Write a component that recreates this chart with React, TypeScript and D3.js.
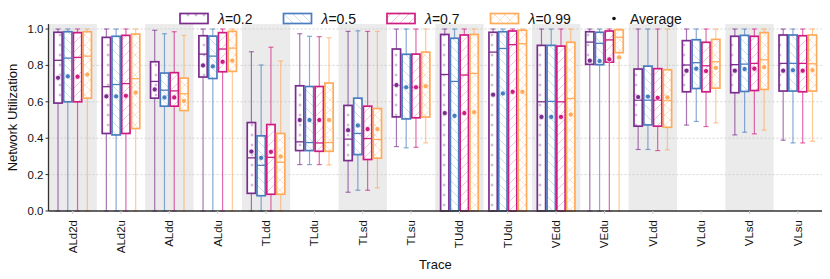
import React from "react";
import * as d3 from "d3";

const categories = ["ALd2d", "ALd2u", "ALdd", "ALdu", "TLdd", "TLdu", "TLsd", "TLsu", "TUdd", "TUdu", "VEdd", "VEdu", "VLdd", "VLdu", "VLsd", "VLsu"];

// each row: [whiskerLow, q1, median, q3, whiskerHigh, mean]
const lam02 = [
  [0, 0.593, 0.828, 0.982, 1, 0.732],
  [0, 0.426, 0.683, 0.954, 1, 0.63],
  [0, 0.62, 0.712, 0.82, 0.993, 0.668],
  [0, 0.736, 0.862, 0.963, 1, 0.8],
  [0, 0.097, 0.292, 0.486, 0.875, 0.327],
  [0.255, 0.332, 0.38, 0.688, 0.974, 0.5],
  [0.103, 0.277, 0.395, 0.58, 0.987, 0.444],
  [0.354, 0.517, 0.69, 0.89, 1, 0.692],
  [0, 0, 0.75, 0.97, 1, 0.538],
  [0, 0, 0.873, 0.982, 1, 0.639],
  [0, 0, 0.6, 0.91, 1, 0.517],
  [0, 0.806, 0.928, 0.985, 1, 0.826],
  [0.338, 0.466, 0.609, 0.78, 1, 0.626],
  [0.472, 0.655, 0.802, 0.936, 1, 0.771],
  [0.418, 0.65, 0.804, 0.96, 1, 0.771],
  [0.389, 0.659, 0.811, 0.967, 1, 0.771],
];
const lam05 = [
  [0, 0.6, 0.84, 0.985, 1, 0.74],
  [0, 0.418, 0.695, 0.96, 1, 0.63],
  [0, 0.576, 0.664, 0.758, 0.974, 0.624],
  [0, 0.728, 0.851, 0.961, 1, 0.795],
  [0, 0.084, 0.251, 0.413, 0.802, 0.292],
  [0.255, 0.332, 0.376, 0.684, 0.96, 0.5],
  [0.114, 0.31, 0.426, 0.62, 0.99, 0.47],
  [0.347, 0.506, 0.68, 0.861, 1, 0.68],
  [0, 0, 0.712, 0.949, 1, 0.523],
  [0, 0, 0.893, 0.985, 1, 0.646],
  [0, 0, 0.602, 0.91, 1, 0.517],
  [0, 0.804, 0.921, 0.982, 1, 0.824],
  [0.338, 0.473, 0.609, 0.796, 1, 0.629],
  [0.492, 0.673, 0.815, 0.941, 1, 0.782],
  [0.433, 0.657, 0.807, 0.965, 1, 0.78],
  [0.374, 0.659, 0.811, 0.967, 1, 0.774],
];
const lam07 = [
  [0, 0.6, 0.844, 0.98, 1, 0.738],
  [0, 0.426, 0.7, 0.965, 1, 0.633],
  [0, 0.576, 0.66, 0.76, 0.985, 0.624],
  [0, 0.765, 0.89, 0.98, 1, 0.82],
  [0, 0.092, 0.295, 0.475, 0.9, 0.325],
  [0.255, 0.328, 0.374, 0.684, 0.958, 0.5],
  [0.114, 0.283, 0.398, 0.576, 0.987, 0.45],
  [0.35, 0.512, 0.68, 0.862, 1, 0.68],
  [0, 0, 0.747, 0.967, 1, 0.538],
  [0, 0, 0.914, 0.989, 1, 0.655],
  [0, 0, 0.6, 0.906, 1, 0.517],
  [0, 0.818, 0.94, 0.989, 1, 0.833],
  [0.332, 0.466, 0.609, 0.782, 1, 0.622],
  [0.464, 0.655, 0.798, 0.927, 1, 0.769],
  [0.424, 0.662, 0.811, 0.96, 1, 0.782],
  [0.374, 0.655, 0.811, 0.963, 1, 0.771],
];
const lam099 = [
  [0, 0.62, 0.851, 0.985, 1, 0.75],
  [0, 0.453, 0.727, 0.972, 1, 0.651],
  [0, 0.552, 0.644, 0.73, 0.965, 0.605],
  [0, 0.767, 0.895, 0.987, 1, 0.826],
  [0, 0.092, 0.268, 0.426, 0.824, 0.3],
  [0.253, 0.328, 0.376, 0.703, 0.952, 0.5],
  [0.127, 0.29, 0.393, 0.563, 0.987, 0.45],
  [0.374, 0.516, 0.686, 0.873, 1, 0.686],
  [0, 0, 0.756, 0.97, 1, 0.543],
  [0, 0, 0.919, 0.993, 1, 0.655],
  [0, 0, 0.618, 0.927, 1, 0.53],
  [0, 0.87, 0.955, 0.996, 1, 0.844],
  [0.336, 0.46, 0.606, 0.776, 1, 0.624],
  [0.484, 0.675, 0.82, 0.943, 1, 0.787],
  [0.444, 0.668, 0.831, 0.98, 1, 0.791],
  [0.383, 0.659, 0.809, 0.967, 1, 0.774],
];

const seriesLabels = ["0.2", "0.5", "0.7", "0.99"];
const seriesColors = ["#7b2d8e", "#4a7dbf", "#d01c80", "#ffab5c"];
const seriesData = [lam02, lam05, lam07, lam099];
const yTicks = [0, 0.2, 0.4, 0.6, 0.8, 1.0];

const W = 830;
const H = 279;
const margin = { left: 48.5, right: 8, top: 29, bottom: 68 };
const font = "'Liberation Sans', Arial, sans-serif";

const Patterns = () => (
  <defs>
    <pattern id="hp0" patternUnits="userSpaceOnUse" width="8" height="10">
      <path d="M4,3.5 V6.5 M2.5,5 H5.5" stroke={seriesColors[0]} strokeOpacity="0.4" strokeWidth="0.9" />
    </pattern>
    <pattern id="hp1" patternUnits="userSpaceOnUse" width="9" height="9">
      <path d="M0,0 L9,9 M-2,7 L2,11 M7,-2 L11,2" stroke={seriesColors[1]} strokeOpacity="0.35" strokeWidth="0.8" />
    </pattern>
    <pattern id="hp2" patternUnits="userSpaceOnUse" width="9" height="9">
      <path d="M0,9 L9,0 M-2,2 L2,-2 M7,11 L11,7" stroke={seriesColors[2]} strokeOpacity="0.35" strokeWidth="0.8" />
    </pattern>
    <pattern id="hp3" patternUnits="userSpaceOnUse" width="10" height="10">
      <path d="M0,0 L10,10 M0,10 L10,0" stroke={seriesColors[3]} strokeOpacity="0.45" strokeWidth="0.8" />
    </pattern>
  </defs>
);

const App = () => {
  const x = d3.scaleBand().domain(categories).range([margin.left, W - margin.right]);
  const y = d3.scaleLinear().domain([0, 1]).range([H - margin.bottom, margin.top]);
  const sub = d3.scaleBand().domain(seriesLabels).range([0, x.bandwidth()]).paddingInner(0.15).paddingOuter(0.55);
  const bw = sub.bandwidth();
  const plotTop = y(1.027);
  const plotBottom = y(0);

  return (
    <svg width={W} height={H} style={{ position: "absolute", left: 0, top: 0 }} fontFamily={font}>
      <Patterns />
      {/* alternating band shading */}
      {categories.map((c, i) =>
        i % 2 === 0 ? (
          <rect key={c} x={x(c)} y={plotTop} width={x.bandwidth()} height={plotBottom - plotTop} fill="#ebebeb" />
        ) : null
      )}
      {/* grid */}
      {yTicks.slice(1).map((t) => (
        <line key={t} x1={margin.left} x2={W - margin.right} y1={y(t)} y2={y(t)} stroke="#c8c8c8" strokeWidth="0.8" strokeDasharray="2,2" />
      ))}
      {/* boxes */}
      {seriesData.map((rows, s) => {
        const col = seriesColors[s];
        return (
          <g key={s}>
            {rows.map((r, i) => {
              const [lo, q1, med, q3, hi, mean] = r;
              const x0 = (x(categories[i]) as number) + (sub(seriesLabels[s]) as number);
              const cx = x0 + bw / 2;
              return (
                <g key={i}>
                  <line x1={cx} x2={cx} y1={y(hi)} y2={y(q3)} stroke={col} strokeOpacity="0.65" strokeWidth="1.2" />
                  <line x1={cx} x2={cx} y1={y(q1)} y2={y(lo)} stroke={col} strokeOpacity="0.65" strokeWidth="1.2" />
                  <line x1={cx - 2.5} x2={cx + 2.5} y1={y(hi)} y2={y(hi)} stroke={col} strokeOpacity="0.65" strokeWidth="1.2" />
                  <line x1={cx - 2.5} x2={cx + 2.5} y1={y(lo)} y2={y(lo)} stroke={col} strokeOpacity="0.65" strokeWidth="1.2" />
                  <rect x={x0} y={y(q3)} width={bw} height={y(q1) - y(q3)} fill="white" />
                  <rect x={x0} y={y(q3)} width={bw} height={y(q1) - y(q3)} fill={`url(#hp${s})`} stroke={col} strokeWidth="1.7" />
                  <line x1={x0} x2={x0 + bw} y1={y(med)} y2={y(med)} stroke={col} strokeWidth="1.3" />
                  <circle cx={cx} cy={y(mean)} r="2.6" fill={col} stroke="white" strokeWidth="0.8" />
                </g>
              );
            })}
          </g>
        );
      })}
      {/* axes */}
      <line x1={margin.left} x2={margin.left} y1={plotTop} y2={plotBottom} stroke="#333" strokeWidth="1.3" />
      <line x1={margin.left} x2={W - margin.right} y1={plotBottom} y2={plotBottom} stroke="#333" strokeWidth="1.3" />
      {yTicks.map((t) => (
        <g key={t}>
          <line x1={margin.left - 3} x2={margin.left} y1={y(t)} y2={y(t)} stroke="#333" strokeWidth="1" />
          <text x={margin.left - 5} y={y(t)} dy="0.35em" textAnchor="end" fontSize="11.5" fill="#111">
            {d3.format(".1f")(t)}
          </text>
        </g>
      ))}
      {categories.map((c) => {
        const cx = (x(c) as number) + x.bandwidth() / 2;
        return (
          <g key={c}>
            <line x1={cx} x2={cx} y1={plotBottom} y2={plotBottom + 3} stroke="#ccc" strokeWidth="1" />
            <text transform={`translate(${cx + 4},${plotBottom + 9}) rotate(-90)`} textAnchor="end" fontSize="11.5" fill="#111">
              {c}
            </text>
          </g>
        );
      })}
      <text transform={`translate(17,${(plotTop + plotBottom) / 2}) rotate(-90)`} textAnchor="middle" fontSize="13" fill="#111">
        Network Utilization
      </text>
      <text x={(margin.left + W - margin.right) / 2} y={269} textAnchor="middle" fontSize="13" fill="#111">
        Trace
      </text>
      {/* legend */}
      {seriesLabels.map((l, s) => {
        const lx = 180 + s * 103.5;
        return (
          <g key={l}>
            <rect x={lx} y={13.5} width={28} height={10} fill="white" />
            <rect x={lx} y={13.5} width={28} height={10} fill={`url(#hp${s})`} stroke={seriesColors[s]} strokeWidth="1.7" />
            <text x={lx + 38} y={23.5} fontSize="14" fill="#111">
              <tspan fontStyle="italic">λ</tspan>=
              {l}
            </text>
          </g>
        );
      })}
      <circle cx={614} cy={18.5} r="1.8" fill="#111" />
      <text x={630} y={23.5} fontSize="14" fill="#111">Average</text>
    </svg>
  );
};

export default App;
